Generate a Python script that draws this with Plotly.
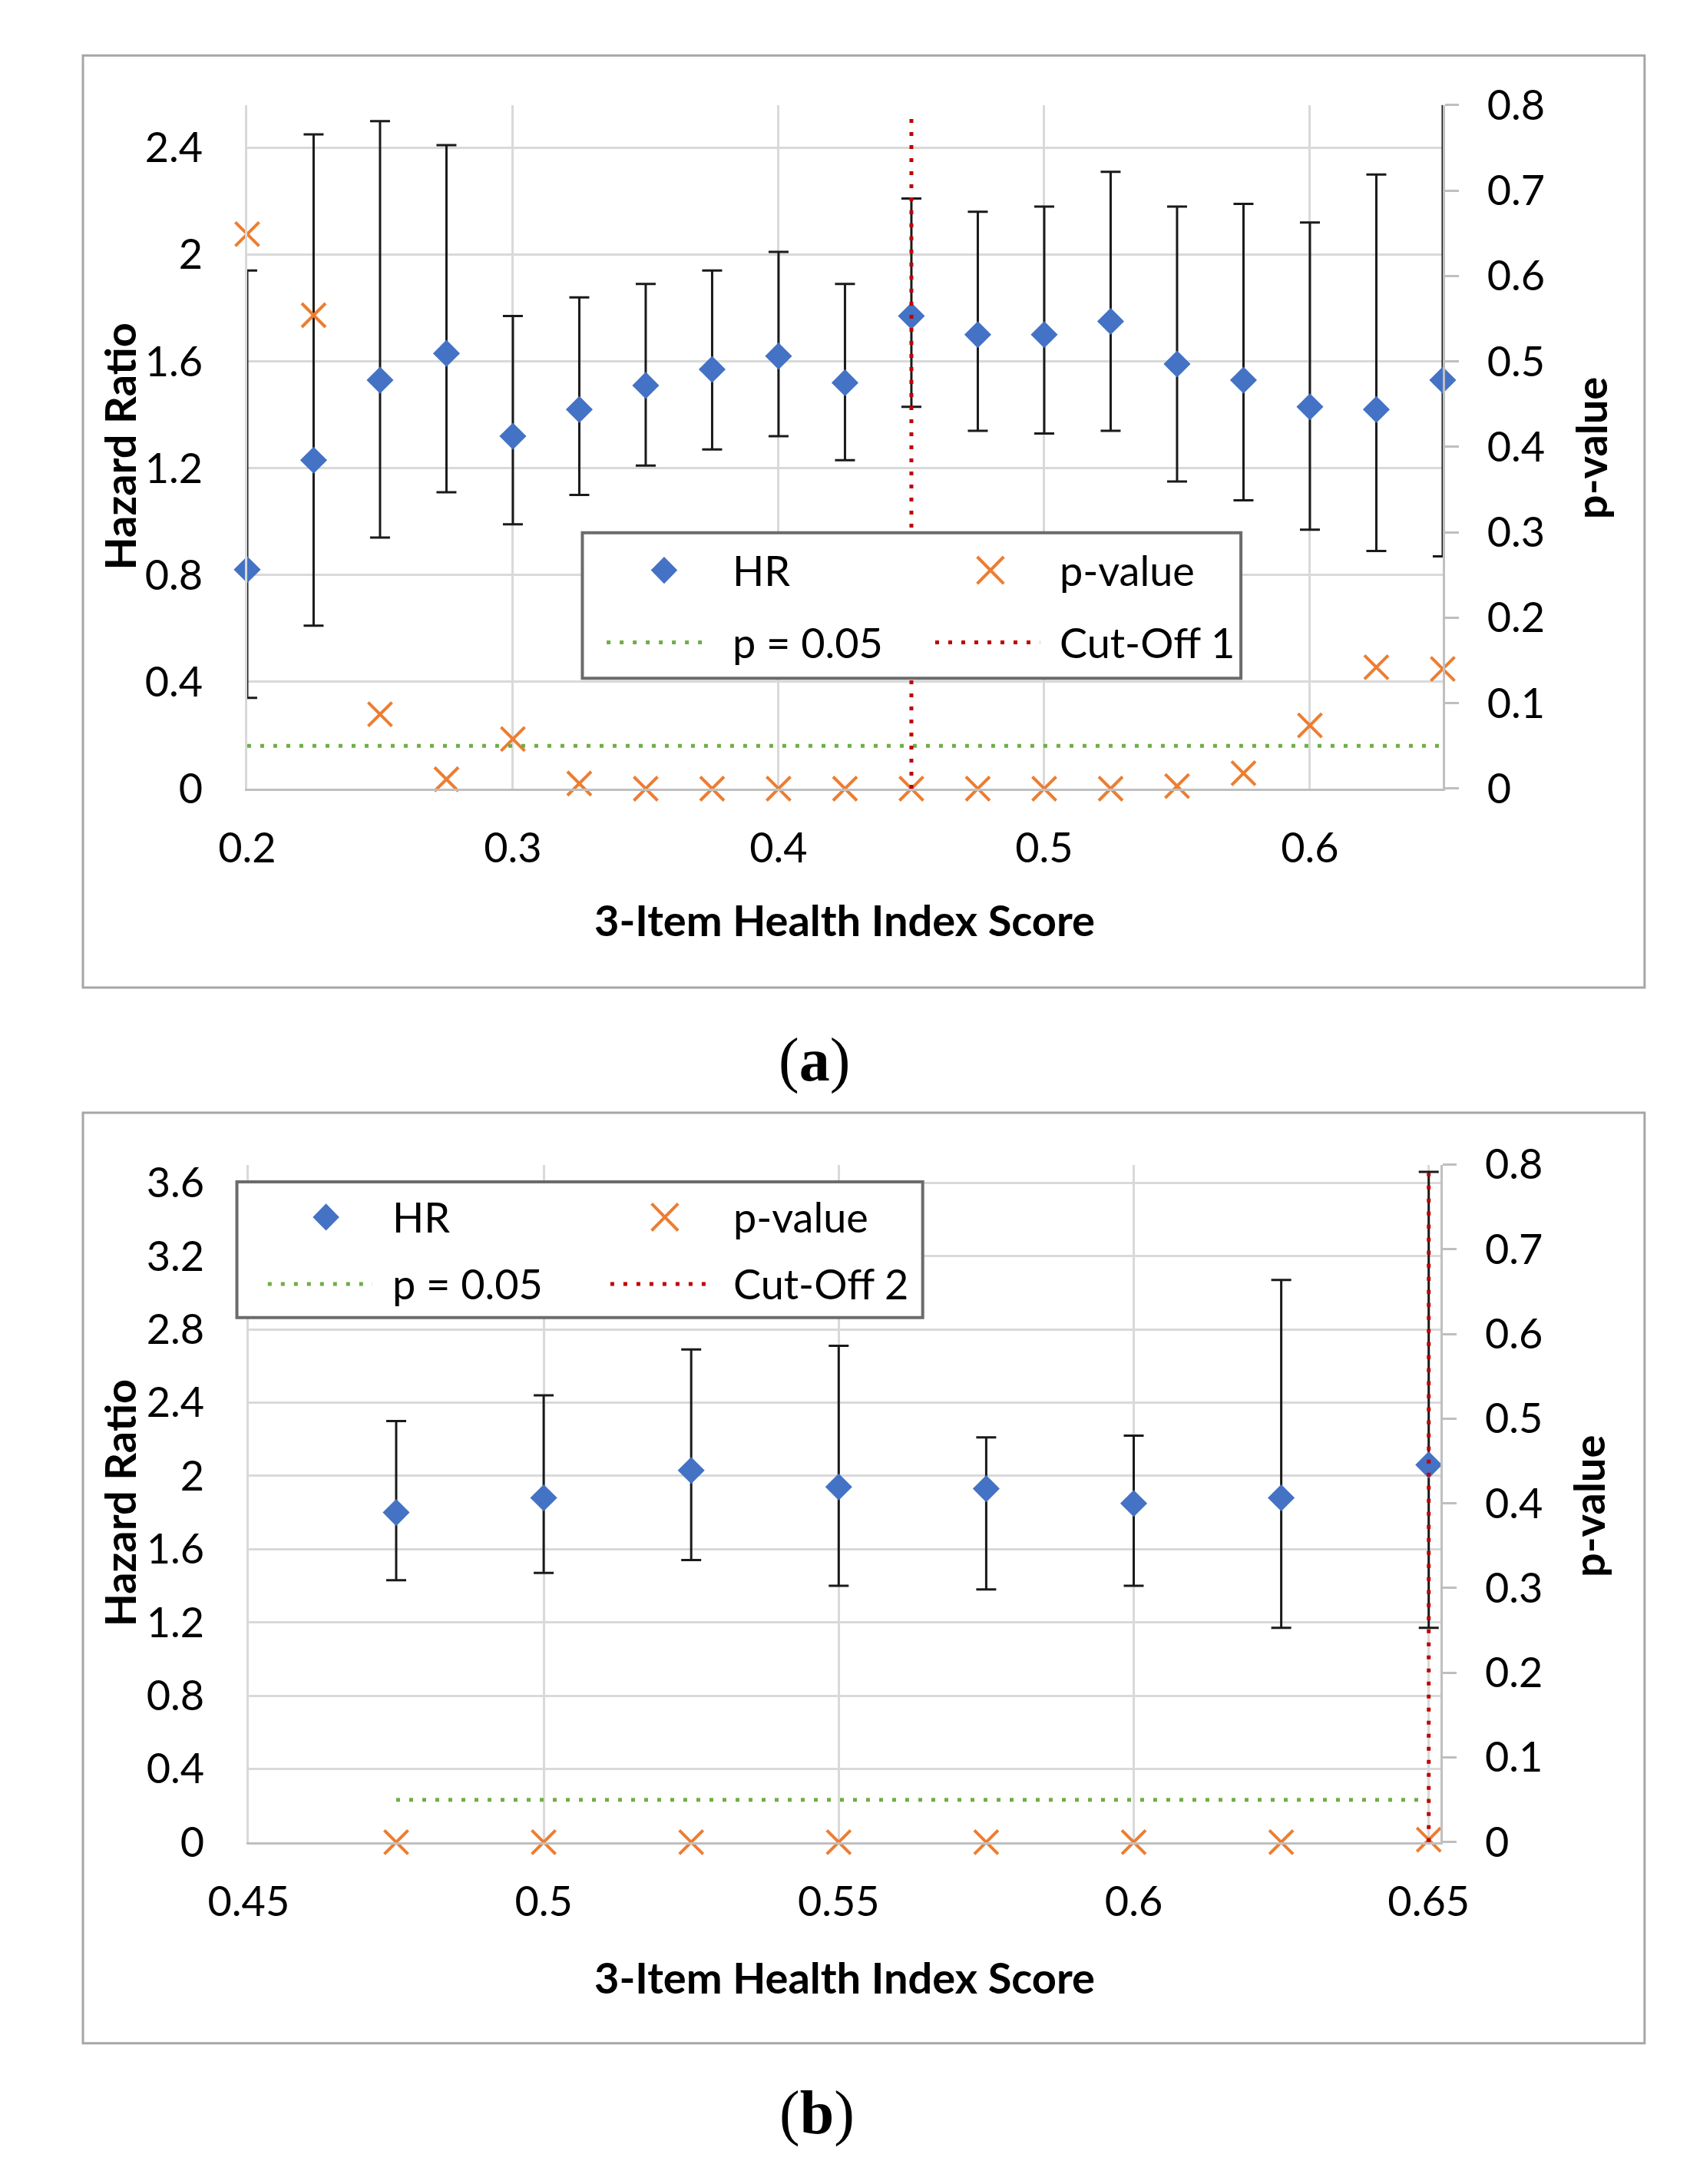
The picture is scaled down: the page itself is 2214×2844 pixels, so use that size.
import plotly.graph_objects as go
from plotly.subplots import make_subplots

W, H = 2214, 2844

# ---- panel (a): Cut-Off 1 ----
score_a = [0.2, 0.225, 0.25, 0.275, 0.3, 0.325, 0.35, 0.375, 0.4, 0.425,
           0.45, 0.475, 0.5, 0.525, 0.55, 0.575, 0.6, 0.625, 0.65]
hr_a = [0.82, 1.23, 1.53, 1.63, 1.32, 1.42, 1.51, 1.57, 1.62, 1.52,
        1.77, 1.70, 1.70, 1.75, 1.59, 1.53, 1.43, 1.42, 1.53]
hr_lo_a = [0.34, 0.61, 0.94, 1.11, 0.99, 1.10, 1.21, 1.27, 1.32, 1.23,
           1.43, 1.34, 1.33, 1.34, 1.15, 1.08, 0.97, 0.89, 0.87]
hr_hi_a = [1.94, 2.45, 2.50, 2.41, 1.77, 1.84, 1.89, 1.94, 2.01, 1.89,
           2.21, 2.16, 2.18, 2.31, 2.18, 2.19, 2.12, 2.30, 2.80]
pval_a = [0.649, 0.554, 0.087, 0.011, 0.058, 0.006, 0.0, 0.0, 0.0, 0.0,
          0.0, 0.0, 0.0, 0.0, 0.003, 0.018, 0.074, 0.142, 0.140]
cutoff_a = 0.45

# ---- panel (b): Cut-Off 2 ----
score_b = [0.475, 0.5, 0.525, 0.55, 0.575, 0.6, 0.625, 0.65]
hr_b = [1.80, 1.88, 2.03, 1.94, 1.93, 1.85, 1.88, 2.06]
hr_lo_b = [1.43, 1.47, 1.54, 1.40, 1.38, 1.40, 1.17, 1.17]
hr_hi_b = [2.30, 2.44, 2.69, 2.71, 2.21, 2.22, 3.07, 3.66]
pval_b = [0.0, 0.0, 0.0, 0.0, 0.0, 0.0, 0.0, 0.003]
cutoff_b = 0.65

p_threshold = 0.05
cutoff_span = [0, 0.79]

BLUE = "#4472C4"
ORANGE = "#ED7D31"
GREEN = "#70AD47"
RED = "#C00000"
GRID = "#d9d9d9"
AXIS = "#bfbfbf"
FONT = "Lato"
DOT = "5px,12px"


def fx(px):
    return px / W


def fy(py):
    return 1 - py / H


fig = make_subplots(rows=2, cols=1,
                    specs=[[{"secondary_y": True}], [{"secondary_y": True}]])


def add_panel(row, x, hr, lo, hi, p, cut):
    plus = [h - m for h, m in zip(hi, hr)]
    minus = [m - l for m, l in zip(hr, lo)]
    # error bars (clipped to plot area)
    fig.add_trace(go.Scatter(
        x=x, y=hr, mode="markers",
        marker=dict(size=2, color="rgba(0,0,0,0)"),
        error_y=dict(type="data", array=plus, arrayminus=minus,
                     color="#1a1a1a", thickness=3, width=13),
        hoverinfo="skip", showlegend=False),
        row=row, col=1, secondary_y=False)
    fig.add_trace(go.Scatter(
        x=x, y=hr, mode="markers", name="HR", cliponaxis=False,
        marker=dict(symbol="diamond", size=27, color=BLUE),
        showlegend=False),
        row=row, col=1, secondary_y=False)
    fig.add_trace(go.Scatter(
        x=x, y=p, mode="markers", name="p-value", cliponaxis=False,
        marker=dict(symbol="x-thin", size=31,
                    line=dict(width=4, color=ORANGE), color=ORANGE),
        showlegend=False),
        row=row, col=1, secondary_y=True)
    fig.add_trace(go.Scatter(
        x=[x[0], x[-1]], y=[p_threshold, p_threshold], mode="lines",
        name="p = 0.05", line=dict(color=GREEN, width=5, dash=DOT),
        showlegend=False),
        row=row, col=1, secondary_y=True)
    fig.add_trace(go.Scatter(
        x=[cut, cut], y=cutoff_span, mode="lines", name="Cut-Off",
        line=dict(color=RED, width=5, dash=DOT),
        showlegend=False),
        row=row, col=1, secondary_y=True)


add_panel(1, score_a, hr_a, hr_lo_a, hr_hi_a, pval_a, cutoff_a)
add_panel(2, score_b, hr_b, hr_lo_b, hr_hi_b, pval_b, cutoff_b)

tickfont = dict(family=FONT, size=54, color="black")

xcommon = dict(showgrid=True, gridcolor=GRID, gridwidth=3, zeroline=False,
               showline=True, linecolor=AXIS, linewidth=3, ticks="",
               tickfont=tickfont, ticklabelstandoff=28)
yleft = dict(showgrid=True, gridcolor=GRID, gridwidth=3, zeroline=False,
             showline=True, linecolor=GRID, linewidth=3, ticks="",
             tickfont=tickfont, ticklabelstandoff=44, tick0=0, dtick=0.4)
yright = dict(showgrid=False, zeroline=False, showline=True, linecolor=AXIS,
              linewidth=3, ticks="outside", ticklen=18, tickwidth=3,
              tickcolor=AXIS, tickfont=tickfont, ticklabelstandoff=26,
              tick0=0, dtick=0.1, range=[0, 0.8])

fig.update_layout(
    xaxis=dict(xcommon, domain=[fx(272), fx(1895)], range=[0.2, 0.65],
               tick0=0.2, dtick=0.1),
    yaxis=dict(yleft, domain=[fy(1008), fy(97)], range=[0, 2.56]),
    yaxis2=dict(yright),
    xaxis2=dict(xcommon, domain=[fx(274), fx(1892)], range=[0.45, 0.652],
                tick0=0.45, dtick=0.05),
    yaxis3=dict(yleft, domain=[fy(2412), fy(1509)], range=[0, 3.7]),
    yaxis4=dict(yright),
)

shapes = []
annotations = []

# panel frames
for top, bottom in [(31, 1273), (1440, 2680)]:
    shapes.append(dict(type="rect", xref="paper", yref="paper",
                       x0=fx(49), x1=fx(2169), y0=fy(bottom), y1=fy(top),
                       line=dict(color="#a6a6a6", width=3), layer="below"))


def text(px, py, s, size=54, angle=0, anchor="center", family=FONT):
    annotations.append(dict(x=fx(px), y=fy(py), xref="paper", yref="paper",
                            text=s, showarrow=False, textangle=angle,
                            xanchor=anchor, yanchor="middle",
                            font=dict(family=family, size=size, color="black")))


def legend_box(x0, y0, x1, y1, r1, r2, c1sym, c1txt, c2sym, c2txt,
               g_span, r_span, cut_label):
    shapes.append(dict(type="rect", xref="paper", yref="paper",
                       x0=fx(x0), x1=fx(x1), y0=fy(y1), y1=fy(y0),
                       fillcolor="white", line=dict(color="#6b6b6b", width=4),
                       layer="above"))
    d = 18
    shapes.append(dict(
        type="path", xref="paper", yref="paper", layer="above",
        path=(f"M{fx(c1sym - d)},{fy(r1)} L{fx(c1sym)},{fy(r1 - d)} "
              f"L{fx(c1sym + d)},{fy(r1)} L{fx(c1sym)},{fy(r1 + d)} Z"),
        fillcolor=BLUE, line=dict(width=0)))
    shapes.append(dict(
        type="path", xref="paper", yref="paper", layer="above",
        path=(f"M{fx(c2sym - d)},{fy(r1 - d)} L{fx(c2sym + d)},{fy(r1 + d)} "
              f"M{fx(c2sym - d)},{fy(r1 + d)} L{fx(c2sym + d)},{fy(r1 - d)}"),
        line=dict(color=ORANGE, width=4)))
    shapes.append(dict(type="line", xref="paper", yref="paper", layer="above",
                       x0=fx(g_span[0]), x1=fx(g_span[1]), y0=fy(r2), y1=fy(r2),
                       line=dict(color=GREEN, width=5, dash=DOT)))
    shapes.append(dict(type="line", xref="paper", yref="paper", layer="above",
                       x0=fx(r_span[0]), x1=fx(r_span[1]), y0=fy(r2), y1=fy(r2),
                       line=dict(color=RED, width=5, dash=DOT)))
    text(c1txt, r1, "HR", anchor="left")
    text(c2txt, r1, "p-value", anchor="left")
    text(c1txt, r2, "p = 0.05", anchor="left")
    text(c2txt, r2, cut_label, anchor="left")


legend_box(727, 667, 1621, 861, 717, 813, 838, 929, 1281, 1373,
           (760, 900), (1206, 1348), "Cut-Off 1")
legend_box(258, 1532, 1189, 1713, 1579, 1668, 379, 467, 839, 930,
           (300, 442), (765, 905), "Cut-Off 2")

# axis titles
text(1083, 1183, "<b>3-Item Health Index Score</b>", size=56)
text(1083, 2592, "<b>3-Item Health Index Score</b>", size=56)
text(98, 552, "<b>Hazard Ratio</b>", size=56, angle=-90)
text(98, 1960, "<b>Hazard Ratio</b>", size=56, angle=-90)
text(2096, 554, "<b>p-value</b>", size=56, angle=-90)
text(2092, 1964, "<b>p-value</b>", size=56, angle=-90)

# panel captions
text(1042, 1370, "(<b>a</b>)", size=80, family="Liberation Serif")
text(1046, 2773, "(<b>b</b>)", size=80, family="Liberation Serif")

fig.update_layout(
    width=W, height=H,
    margin=dict(l=0, r=0, t=0, b=0),
    paper_bgcolor="white", plot_bgcolor="white",
    showlegend=False,
    shapes=shapes, annotations=annotations,
    font=dict(family=FONT, size=54, color="black"),
)

fig.write_html("out.html")
